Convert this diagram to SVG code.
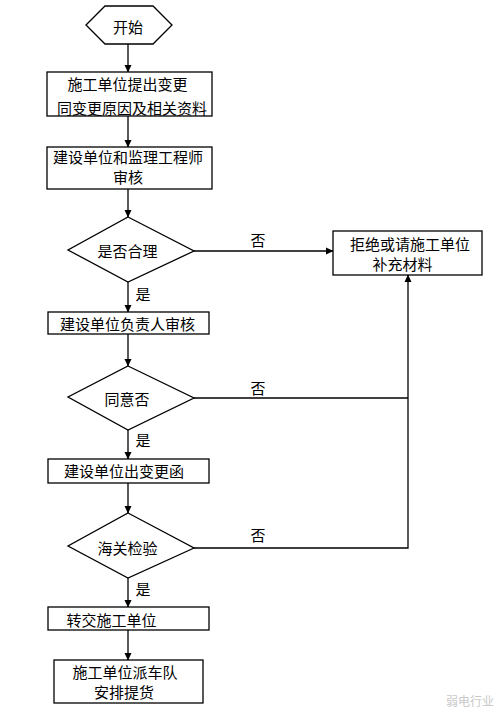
<svg xmlns="http://www.w3.org/2000/svg" width="500" height="711" viewBox="0 0 500 711">
<defs>
<marker id="arr" markerWidth="8" markerHeight="8" refX="7" refY="4" orient="auto" markerUnits="userSpaceOnUse">
<path d="M0,0.5 L7.5,4 L0,7.5 Z" fill="#000"/>
</marker>
<style>
.shape{fill:#fff;stroke:#000;stroke-width:1.3}
.t{font-family:"Noto Sans CJK SC","Noto Sans",sans-serif;font-size:15px;fill:#000;text-anchor:middle;dominant-baseline:central}
.c{fill:none;stroke:#000;stroke-width:1.3}
.wm{font-family:"Noto Sans CJK SC",sans-serif;font-size:12px;fill:#c8c8c8;dominant-baseline:central}
</style>
</defs>
<rect width="500" height="711" fill="#fff"/>
<g id="connectors">
<line class="c" x1="128" y1="44" x2="128" y2="72" marker-end="url(#arr)"/>
<line class="c" x1="128" y1="116" x2="128" y2="147" marker-end="url(#arr)"/>
<line class="c" x1="128" y1="189" x2="128" y2="217" marker-end="url(#arr)"/>
<line class="c" x1="194" y1="251" x2="333" y2="251" marker-end="url(#arr)"/>
<line class="c" x1="128" y1="282" x2="128" y2="312" marker-end="url(#arr)"/>
<line class="c" x1="128" y1="334" x2="128" y2="366" marker-end="url(#arr)"/>
<line class="c" x1="128" y1="430" x2="128" y2="459" marker-end="url(#arr)"/>
<line class="c" x1="128" y1="483" x2="128" y2="513" marker-end="url(#arr)"/>
<line class="c" x1="128" y1="578" x2="128" y2="607" marker-end="url(#arr)"/>
<line class="c" x1="128" y1="630" x2="128" y2="660" marker-end="url(#arr)"/>
<line class="c" x1="194" y1="398" x2="408" y2="398"/>
<polyline class="c" points="194,548 408,548 408,275" marker-end="url(#arr)"/>
<text class="t" x="258" y="239">否</text>
<text class="t" x="258" y="387">否</text>
<text class="t" x="258" y="534">否</text>
<text class="t" x="143" y="293">是</text>
<text class="t" x="143" y="439">是</text>
<text class="t" x="143" y="588">是</text>
</g>
<g id="start">
<polygon class="shape" points="86,25 105,6 153,6 172,25 153,44 105,44"/>
<text class="t" x="128" y="26">开始</text>
</g>
<g id="submit">
<rect class="shape" x="47" y="72" width="165" height="44"/>
<text class="t" x="127.5" y="83">施工单位提出变更</text>
<text class="t" x="132" y="107">同变更原因及相关资料</text>
</g>
<g id="review1">
<rect class="shape" x="47" y="147" width="165" height="42"/>
<text class="t" x="128" y="156">建设单位和监理工程师</text>
<text class="t" x="128" y="176">审核</text>
</g>
<g id="decision1">
<polygon class="shape" points="128,217 194,251 128,282 68,250"/>
<text class="t" x="127.5" y="250">是否合理</text>
</g>
<g id="reject">
<rect class="shape" x="333" y="231" width="149" height="44"/>
<text class="t" x="410" y="243">拒绝或请施工单位</text>
<text class="t" x="402.5" y="263">补充材料</text>
</g>
<g id="review2">
<rect class="shape" x="48" y="312" width="161" height="22"/>
<text class="t" x="127.5" y="323">建设单位负责人审核</text>
</g>
<g id="decision2">
<polygon class="shape" points="128,366 194,398 128,430 68,397"/>
<text class="t" x="127" y="398">同意否</text>
</g>
<g id="letter">
<rect class="shape" x="48" y="459" width="161" height="24"/>
<text class="t" x="124" y="470">建设单位出变更函</text>
</g>
<g id="decision3">
<polygon class="shape" points="128,513 194,548 128,578 68,546"/>
<text class="t" x="127.5" y="547">海关检验</text>
</g>
<g id="transfer">
<rect class="shape" x="48" y="607" width="161" height="23"/>
<text class="t" x="111.5" y="619">转交施工单位</text>
</g>
<g id="pickup">
<rect class="shape" x="54" y="660" width="149" height="43"/>
<text class="t" x="125" y="671">施工单位派车队</text>
<text class="t" x="124" y="691">安排提货</text>
</g>
<text class="wm" x="446" y="700">弱电行业</text>
</svg>
